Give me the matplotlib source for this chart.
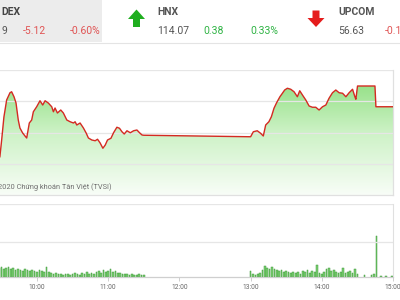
import matplotlib
matplotlib.use("Agg")
import matplotlib.pyplot as plt
import numpy as np
from matplotlib.colors import LinearSegmentedColormap
from matplotlib.patches import PathPatch

plt.rcParams['font.family'] = ['Roboto', 'DejaVu Sans']

# index line, time in minutes after 9:00
price_min = [15, 26, 28.7, 30.2, 32.1, 34.4, 37.2, 38.6, 40.6, 42.3,
             44.2, 45.6, 47.9, 49.9, 51.3, 53.5, 55.5, 56.9, 59.7, 62.5,
             64.8, 66.8, 69.5, 72.4, 73.8, 75.2, 77.2, 80.0, 82.2, 85.1,
             87.9, 90.7, 92.1, 93.5, 96.3, 99.1, 101.4, 103.3, 106.2, 109.0,
             111.0, 113.2, 115.5, 117.5, 119.4, 122.3, 124.5, 127.3, 129.5, 131.6,
             133.5, 135.8, 138.6, 141.4, 144.2, 146.4, 148.5, 150,
             240, 242.3, 245.6, 248.4, 250.7, 252.7, 255.4, 257.5, 259.7, 261.9,
             264.7, 266.8, 268.7, 271.0, 273.8, 276.6, 279.4, 281.4, 283.7, 286.5,
             289.3, 292.1, 294.9, 297.7, 300.6, 303.4, 306.1, 309.0, 311.8, 314.6,
             317.5, 320.3, 323.0, 325.9, 327.9, 328.7, 330.1, 344.8, 345.6, 360]
price_val = [841.8, 842.6, 843.06, 844.4, 846.24, 847.6, 848.18, 848.26, 847.86, 847.36,
             846.0, 845.36, 844.96, 844.72, 844.56, 845.76, 846.0, 846.66, 847.06, 847.54,
             847.2, 847.54, 847.36, 847.06, 846.66, 846.96, 846.56, 846.8, 846.56, 846.0,
             845.86, 845.76, 845.86, 845.6, 845.76, 845.36, 844.96, 844.56, 844.4, 844.34,
             844.46, 844.16, 843.74, 844.0, 844.4, 844.54, 844.98, 845.42, 845.34, 845.06,
             844.88, 845.14, 844.98, 845.14, 845.2, 844.98, 844.8, 844.78,
             844.66, 845.06, 845.14, 844.94, 844.72, 845.6, 845.86, 846.26, 846.94, 847.38,
             847.86, 848.14, 848.4, 848.54, 848.46, 848.26, 847.86, 848.34, 848.0, 847.6,
             847.12, 847.02, 847.02, 846.8, 847.06, 847.2, 847.74, 848.18, 848.4, 848.18,
             848.14, 847.86, 848.18, 848.46, 847.86, 847.66, 848.72, 848.72, 847.06, 847.06]

# volume (thousand shares), 2-minute bins
vol_min_am = list(range(28, 151, 2))
vol_am = [900, 1000, 800, 900, 1000, 800, 900,
          700, 800, 700, 600, 800, 700, 600, 700,
          600, 500, 700, 600, 500,
          1000,
          500, 400, 300, 400, 300, 300, 200, 300, 300, 200,
          300, 400, 300, 200, 400, 300, 500, 300, 400, 300,
          500, 600, 400, 700, 500, 600,
          800,
          500, 600, 400, 400, 300, 300,
          300, 200, 300, 200, 200, 300, 200, 200]
vol_min_pm = list(range(240, 331, 2)) + [336, 342, 344, 346, 350, 354, 359]
vol_pm = [600, 300, 200, 300, 400, 700, 1100, 900, 800, 1000,
          800, 700, 600, 700, 500, 600, 500, 400, 500, 400,
          500, 300, 600, 500, 700, 400, 600, 500, 1200, 400,
          300, 500, 800, 900, 600, 700, 500, 400, 500, 900,
          400, 500, 600, 400, 800, 300,
          200, 200, 300, 4100, 100, 100, 100]

tick_min = [60, 120, 180, 240, 300, 360]
tick_lab = ["10:00", "11:00", "12:00", "13:00", "14:00", "15:00"]

fig = plt.figure(figsize=(4, 3), dpi=100)
fig.patch.set_facecolor("white")

# header (pixel coordinates)
hdr = fig.add_axes([0, 0, 1, 1], zorder=0)
hdr.set_xlim(0, 400)
hdr.set_ylim(300, 0)
hdr.axis("off")
hdr.fill([0, 102, 102, 0], [0, 0, 42, 42], color="#ececec", lw=0)
hdr.plot([0, 400], [43, 43], color="#e4e4e4", lw=0.8)
red = "#e05555"
green = "#2fb344"
gray = "#555555"
fs = 7.5
hdr.text(1, 12, "DEX", fontsize=fs, fontweight="bold", color="#444444", va="center")
hdr.text(1, 31, "9", fontsize=fs, color=gray, va="center")
hdr.text(23, 31, "-5.12", fontsize=fs, color=red, va="center")
hdr.text(70, 31, "-0.60%", fontsize=fs, color=red, va="center")
hdr.fill([136.5, 145, 140, 140, 133, 133, 128], [9.5, 19, 19, 27, 27, 19, 19], color="#1fae1f", lw=0)
hdr.text(157, 12, "HNX", fontsize=fs, fontweight="bold", color=gray, va="center")
hdr.text(157, 31, "114.07", fontsize=fs, color=gray, va="center")
hdr.text(203, 31, "0.38", fontsize=fs, color=green, va="center")
hdr.text(250, 31, "0.33%", fontsize=fs, color=green, va="center")
hdr.fill([316, 324.5, 319.5, 319.5, 312.5, 312.5, 307.5], [27, 18, 18, 10.5, 10.5, 18, 18], color="#e51c1c", lw=0)
hdr.text(338, 12, "UPCOM", fontsize=fs, fontweight="bold", color=gray, va="center")
hdr.text(338, 31, "56.63", fontsize=fs, color=gray, va="center")
hdr.text(385, 31, "-0.16%", fontsize=fs, color=red, va="center")

xlim = (28.8, 360)
axis_w = 393 / 400

# price chart
ax = fig.add_axes([0, 105 / 300, axis_w, 125 / 300], zorder=2)
ax.patch.set_alpha(0)
ax.set_xlim(*xlim)
ax.set_ylim(840, 850)
ax.set_yticks([842.5, 845, 847.5, 850])
ax.set_xticks([])
ax.tick_params(left=False, labelleft=False)
ax.grid(axis="y", color="#e6e6e6", lw=0.9)
for s in ["left", "top"]:
    ax.spines[s].set_visible(False)
for s in ["right", "bottom"]:
    ax.spines[s].set_color("#e0e0e0")
    ax.spines[s].set_linewidth(0.9)

poly = ax.fill_between(price_min, price_val, 840, color="none", lw=0)
cmap = LinearSegmentedColormap.from_list("g", ["#f8fdf7", "#cdf2c6", "#86dc76"])
grad = np.linspace(0, 1, 256).reshape(-1, 1)
im = ax.imshow(grad, extent=[xlim[0] - 20, 360, 840, 850], origin="lower",
               aspect="auto", cmap=cmap, zorder=1)
clip = PathPatch(poly.get_paths()[0], transform=ax.transData, fc="none", ec="none")
ax.add_patch(clip)
im.set_clip_path(clip)
ax.set_xlim(*xlim)
ax.plot(price_min, price_val, color="#d42a22", lw=1.0, zorder=3)
ax.text(-1.5 / 393, 8 / 125, "2020 Chứng khoán Tân Việt (TVSI)", transform=ax.transAxes,
        fontsize=5.3, color="#6f6f6f", va="center", ha="left", zorder=4)

# volume chart
vx = fig.add_axes([0, 23 / 300, axis_w, 73 / 300], zorder=2)
vx.patch.set_alpha(0)
vx.bar(vol_min_am, vol_am, width=1.4, color="#7ccf73", edgecolor="#3f9a3a", lw=0.35)
vx.bar(vol_min_pm, vol_pm, width=1.4, color="#7ccf73", edgecolor="#3f9a3a", lw=0.35)
vx.set_xlim(*xlim)
vx.set_ylim(0, 7300)
vx.set_yticks([3500, 7300])
vx.tick_params(left=False, labelleft=False)
vx.grid(axis="y", color="#e6e6e6", lw=0.9)
vx.set_xticks(tick_min)
vx.set_xticklabels(tick_lab)
vx.tick_params(axis="x", length=3, width=0.6, color="#c8c8c8", labelsize=4.8,
               labelcolor="#666666", pad=2)
vx.spines["left"].set_visible(False)
vx.spines["top"].set_visible(False)
vx.spines["right"].set_color("#e0e0e0")
vx.spines["bottom"].set_color("#cfcfcf")
vx.spines["bottom"].set_linewidth(0.9)

fig.savefig("out.png", dpi=100)
